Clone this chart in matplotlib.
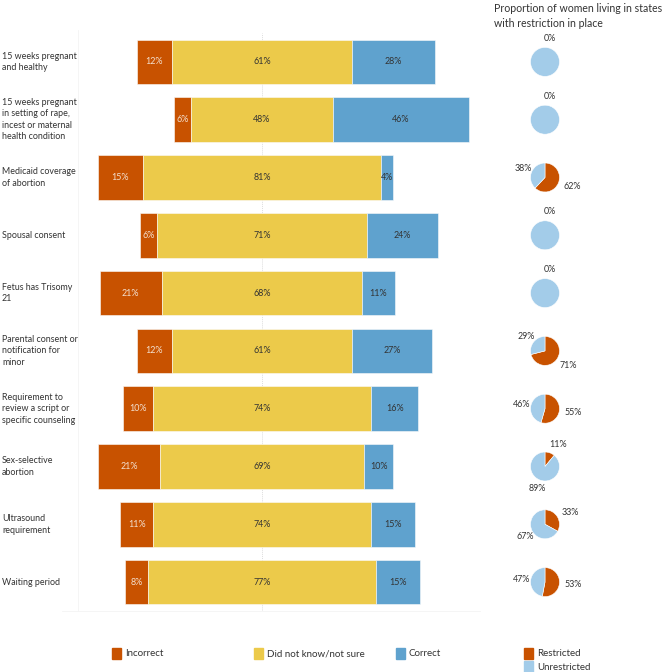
import numpy as np
import matplotlib
matplotlib.use("Agg")
import matplotlib.pyplot as plt
from matplotlib.patches import Rectangle

# ── Datos ──
categorias = [
    "15 weeks pregnant\nand healthy",
    "15 weeks pregnant\nin setting of rape,\nincest or maternal\nhealth condition",
    "Medicaid coverage\nof abortion",
    "Spousal consent",
    "Fetus has Trisomy\n21",
    "Parental consent or\nnotification for\nminor",
    "Requirement to\nreview a script or\nspecific counseling",
    "Sex-selective\nabortion",
    "Ultrasound\nrequirement",
    "Waiting period",
]
incorrecto = [12, 6, 15, 6, 21, 12, 10, 21, 11, 8]
no_sabe = [61, 48, 81, 71, 68, 61, 74, 69, 74, 77]
correcto = [28, 46, 4, 24, 11, 27, 16, 10, 15, 15]
restringido = [0, 0, 62, 0, 0, 71, 55, 11, 33, 53]
no_restringido = [100, 100, 38, 100, 100, 29, 46, 89, 67, 47]

C_INC = "#C85200"
C_NS = "#ECCA4A"
C_COR = "#5FA2CE"
C_UNR = "#A3CCE9"
C_TXT = "#333333"
FUENTE = "Lato"

plt.rcParams["font.family"] = [FUENTE, "DejaVu Sans"]

W, H = 669, 672
fig = plt.figure(figsize=(W / 100, H / 100), dpi=100)

# ── Panel de barras (coordenadas en px convertidas a fracción) ──
x0, x1 = 78, 480
y_top, y_bot = 33, 611
centro = 262
px_pct = 2.95
ax = fig.add_axes([x0 / W, 1 - y_bot / H, (x1 - x0) / W, (y_bot - y_top) / H])
ax.set_xlim(-(centro - x0) / px_pct, (x1 - centro) / px_pct)
n = len(categorias)
ax.set_ylim(n - 0.5, -0.5)
ax.axis("off")

ax.axvline(0, color="#dddddd", lw=0.7, ls=(0, (1, 1)), zorder=0)

for i in range(n):
    izq = -no_sabe[i] / 2 - incorrecto[i]
    partes = [(incorrecto[i], C_INC, "#f3e0d0"),
              (no_sabe[i], C_NS, C_TXT),
              (correcto[i], C_COR, C_TXT)]
    for val, col, tcol in partes:
        ax.barh(i, val, left=izq, height=0.77, color=col,
                edgecolor="#fbfbfb", linewidth=0.4, zorder=2)
        ax.text(izq + val / 2, i, f"{val}%", ha="center", va="center",
                fontsize=6.4, color=tcol, zorder=3)
        izq += val
    ax.text(-(centro - 2) / px_pct, i, categorias[i], ha="left", va="center",
            fontsize=6.4, color=C_TXT, linespacing=1.35, clip_on=False)

# líneas tenues de la cuadrícula
fig.add_artist(plt.Line2D([78 / W, 78 / W], [1 - 30 / H, 1 - 611 / H],
                          color="#f4f4f4", lw=0.6))
fig.add_artist(plt.Line2D([62 / W, 480 / W], [1 - 611 / H, 1 - 611 / H],
                          color="#f4f4f4", lw=0.6))

# ── Pies ──
pie_cx = 545
r_px = 14.5
fila_h = (y_bot - y_top) / n
for i in range(n):
    cy = y_top + (i + 0.5) * fila_h
    pax = fig.add_axes([(pie_cx - r_px) / W, 1 - (cy + r_px) / H,
                        2 * r_px / W, 2 * r_px / H])
    pax.pie([restringido[i], no_restringido[i]], colors=[C_INC, C_UNR],
            startangle=90, counterclock=False, radius=1,
            wedgeprops=dict(linewidth=0.4, edgecolor="white"))
    pax.set_xlim(-1, 1)
    pax.set_ylim(-1, 1)
    pax.axis("off")
    fr = restringido[i] / 100
    ang = np.deg2rad(fr * 180)
    d = 1.62
    pax.text(d * np.sin(ang) + 0.35, d * np.cos(ang), f"{restringido[i]}%",
             ha="center", va="center", fontsize=6.4, color=C_TXT, clip_on=False)
    if 0 < no_restringido[i] < 100:
        ang = np.deg2rad((fr + no_restringido[i] / 200) * 360)
        pax.text(d * np.sin(ang), d * np.cos(ang), f"{no_restringido[i]}%",
                 ha="center", va="center", fontsize=6.4, color=C_TXT, clip_on=False)

fig.text(494 / W, 1 - 3 / H,
         "Proportion of women living in states\nwith restriction in place",
         ha="left", va="top", fontsize=7.6, color=C_TXT, linespacing=1.4)

# ── Leyenda ──
def item(x, y, col, txt):
    fig.add_artist(Rectangle((x / W, 1 - (y + 5) / H), 9 / W, 11 / H,
                             color=col, transform=fig.transFigure))
    fig.text((x + 13) / W, 1 - y / H, txt, ha="left", va="center",
             fontsize=7, color=C_TXT)

item(112, 654, C_INC, "Incorrect")
item(254, 654, C_NS, "Did not know/not sure")
item(396, 654, C_COR, "Correct")
item(524, 654, C_INC, "Restricted")
item(524, 667, C_UNR, "Unrestricted")

fig.savefig("out.png", dpi=100)
